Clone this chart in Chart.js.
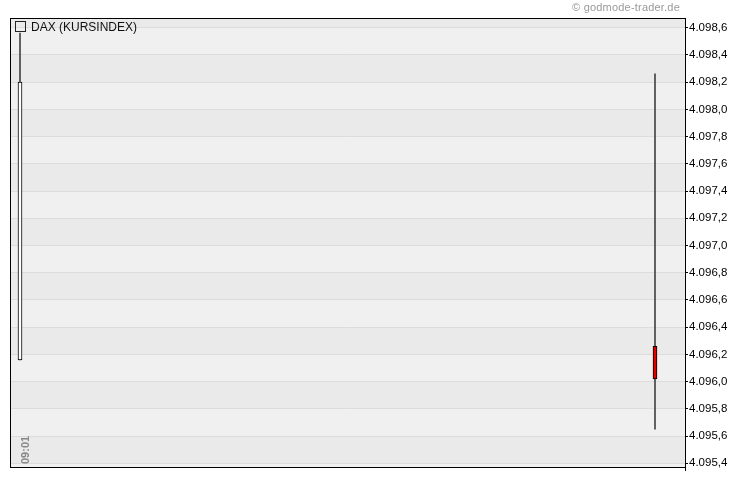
<!DOCTYPE html>
<html>
<head>
<meta charset="utf-8">
<script src="https://cdn.jsdelivr.net/npm/chart.js@4.4.0/dist/chart.umd.min.js"></script>
<style>
  html, body { margin: 0; padding: 0; background: #fff; }
  #wrap { position: relative; width: 730px; height: 481px; }
  #copy { position: absolute; right: 50px; top: 1px; font: 11px "Liberation Sans", Arial, sans-serif; color: #9a9a9a; letter-spacing: 0.2px; }
  #legend { position: absolute; left: 15px; top: 20px; font: 12px "Liberation Sans", Arial, sans-serif; color: #111; }
  #legend span.box { display: inline-block; width: 9px; height: 9px; border: 1px solid #222; vertical-align: -1px; margin-right: 5px; }
</style>
</head>
<body>
<div id="wrap">
  <canvas id="c" width="730" height="481"></canvas>
  <div id="copy">&copy; godmode-trader.de</div>
  <div id="legend"><span class="box"></span>DAX (KURSINDEX)</div>
</div>
<script>
// candles (x = minute slot from 09:01)
const slots  = [0, 127];
const opens  = [4096.16, 4096.26];
const highs  = [4098.56, 4098.26];
const lows   = [4096.16, 4095.65];
const closes = [4098.20, 4096.02];

const xTickSlots  = [0];
const xTickLabels = ['09:01'];
const yTicks = [4095.4, 4095.6, 4095.8, 4096.0, 4096.2, 4096.4, 4096.6, 4096.8,
                4097.0, 4097.2, 4097.4, 4097.6, 4097.8, 4098.0, 4098.2, 4098.4, 4098.6];

function fmtDe(v) {
    var s = v.toFixed(1).split('.');
    var i = s[0].replace(/\B(?=(\d{3})+(?!\d))/g, '.');
    return i + ',' + s[1];
}

// alternating bands + frame + rotated time label
const chartDeco = {
    id: 'chartDeco',
    beforeDraw(chart) {
        const ctx = chart.ctx, a = chart.chartArea, y = chart.scales.y;
        ctx.save();
        ctx.fillStyle = '#f0f0f0';
        ctx.fillRect(a.left, a.top, a.right - a.left, a.bottom - a.top);
        ctx.fillStyle = '#eaeaea';
        for (let i = 0; i < yTicks.length - 1; i += 2) {
            let top = y.getPixelForValue(yTicks[i + 1]);
            let bot = Math.min(y.getPixelForValue(yTicks[i]), a.bottom);
            ctx.fillRect(a.left, top, a.right - a.left, bot - top);
        }
        // band above the last tick
        ctx.fillRect(a.left, a.top, a.right - a.left, y.getPixelForValue(yTicks[yTicks.length - 1]) - a.top);
        ctx.restore();
    },
    afterDraw(chart) {
        const ctx = chart.ctx, a = chart.chartArea, x = chart.scales.x;
        ctx.save();
        ctx.strokeStyle = '#000';
        ctx.lineWidth = 1;
        ctx.strokeRect(Math.round(a.left) + 0.5, Math.round(a.top) + 0.5,
                       Math.round(a.right - a.left), Math.round(a.bottom - a.top));
        ctx.fillStyle = '#888';
        ctx.font = 'bold 11px "Liberation Sans", Arial, sans-serif';
        ctx.textAlign = 'left';
        ctx.textBaseline = 'alphabetic';
        for (let i = 0; i < xTickSlots.length; i++) {
            const px = x.getPixelForValue(xTickSlots[i]);
            ctx.save();
            ctx.translate(px + 9, a.bottom - 3);
            ctx.rotate(-Math.PI / 2);
            ctx.fillText(xTickLabels[i], 0, 0);
            ctx.restore();
        }
        ctx.restore();
    }
};

new Chart(document.getElementById('c'), {
    type: 'bar',
    data: {
        datasets: [
            {
                label: 'body',
                data: slots.map((s, i) => ({ x: s, y: [opens[i], closes[i]] })),
                backgroundColor: closes.map((c, i) => c >= opens[i] ? '#ffffff' : '#e00000'),
                borderColor: '#000',
                borderWidth: 1,
                borderSkipped: false,
                barThickness: 4,
                grouped: false
            },
            {
                label: 'wick',
                data: slots.map((s, i) => ({ x: s, y: [lows[i], highs[i]] })),
                backgroundColor: '#444',
                borderWidth: 0,
                barThickness: 1,
                grouped: false
            }
        ]
    },
    options: {
        responsive: false,
        animation: false,
        layout: { padding: { top: 18, left: 10, right: 0, bottom: 0 } },
        plugins: { legend: { display: false }, tooltip: { enabled: false } },
        scales: {
            x: {
                type: 'linear',
                offset: false,
                min: -2,
                max: 133,
                afterBuildTicks: s => { s.ticks = xTickSlots.map(v => ({ value: v })); },
                afterFit: s => { s.height = 14; },
                grid: { drawOnChartArea: false, tickLength: 4, tickColor: '#000' },
                border: { color: '#000' },
                ticks: { display: false }
            },
            y: {
                position: 'right',
                min: 4095.373,
                max: 4098.671,
                afterBuildTicks: s => { s.ticks = yTicks.map(v => ({ value: v })); },
                afterFit: s => { s.width = 45; },
                grid: { color: '#dcdcdc', tickLength: 3, tickColor: '#000' },
                border: { color: '#000' },
                ticks: {
                    padding: 1,
                    color: '#000',
                    font: { family: '"Liberation Sans", Arial, sans-serif', size: 11.5 },
                    callback: v => fmtDe(v)
                }
            }
        }
    },
    plugins: [chartDeco]
});
</script>
</body>
</html>
